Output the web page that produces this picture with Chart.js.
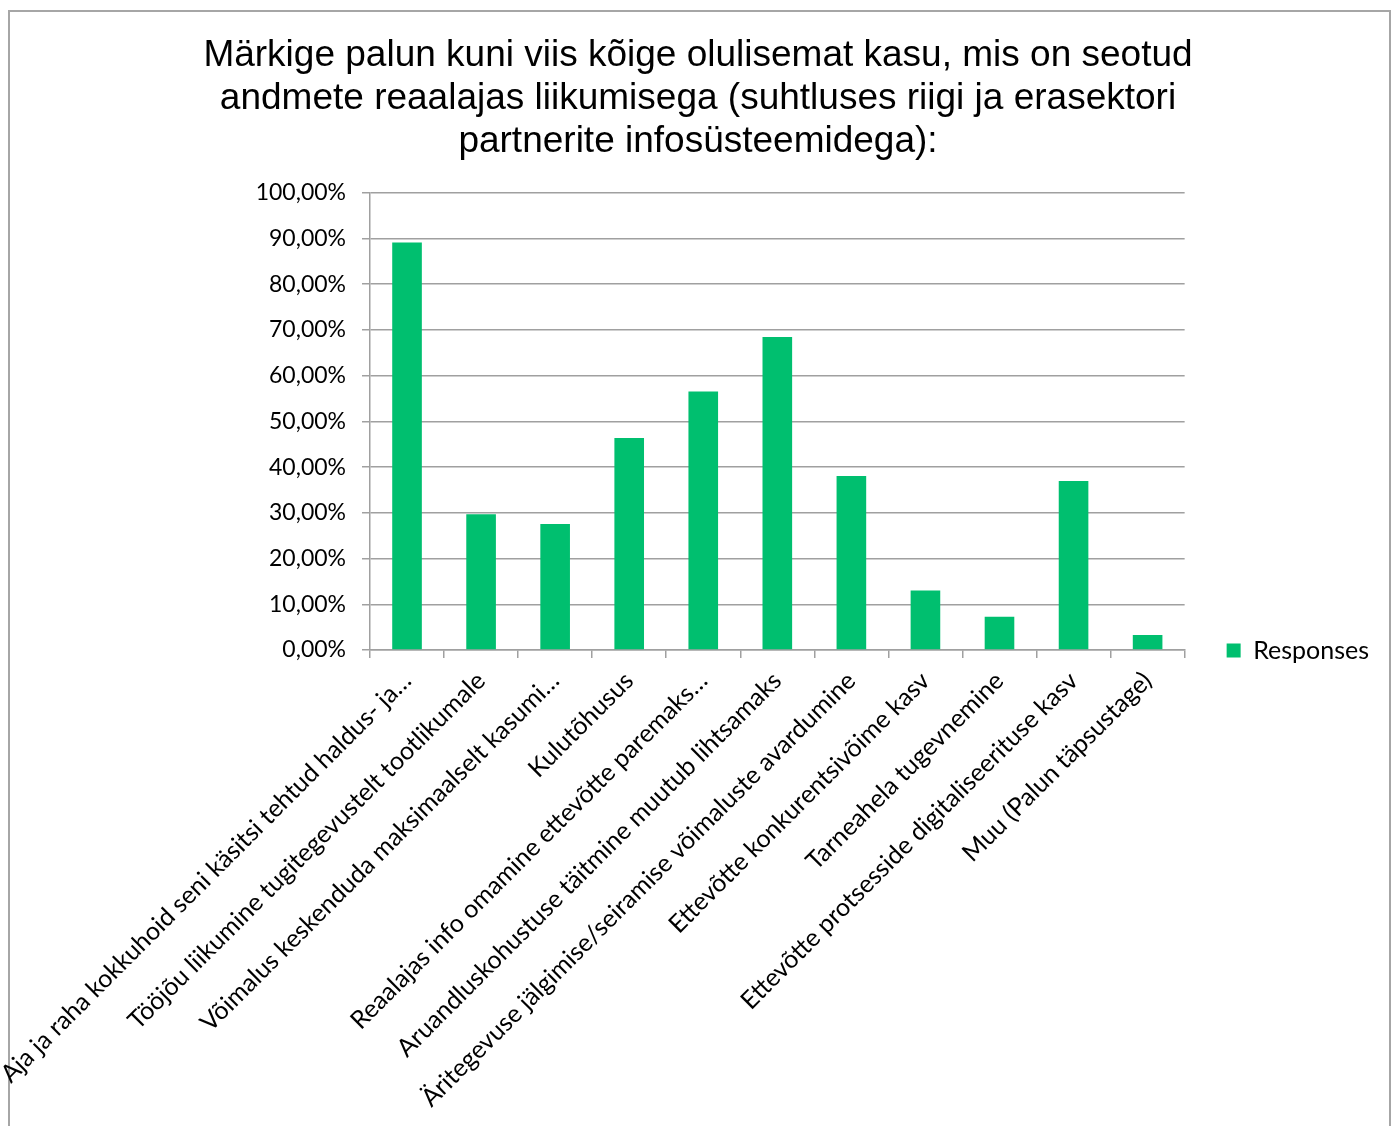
<!DOCTYPE html>
<html>
<head>
<meta charset="utf-8">
<script src="https://cdn.jsdelivr.net/npm/chart.js"></script>
<style>
  body { margin: 0; background: #fff; }
  #frame {
    position: absolute;
    left: 8px;
    top: 10px;
    width: 1379px;
    height: 1200px;
    border: 2px solid #a6a6a6;
  }
  #wrap { position: absolute; left: 0; top: 0; width: 1395px; height: 1126px; }
</style>
</head>
<body>
<div id="frame"></div>
<div id="wrap"><canvas id="benefitsChart"></canvas></div>
<script>
const titleLines = [
  "Märkige palun kuni viis kõige olulisemat kasu, mis on seotud",
  "andmete reaalajas liikumisega (suhtluses riigi ja erasektori",
  "partnerite infosüsteemidega):",
];

const categories = [
  "Aja ja raha kokkuhoid seni käsitsi tehtud haldus- ja…",
  "Tööjõu liikumine tugitegevustelt tootlikumale",
  "Võimalus keskenduda maksimaalselt kasumi…",
  "Kulutõhusus",
  "Reaalajas info omamine ettevõtte paremaks…",
  "Aruandluskohustuse täitmine muutub lihtsamaks",
  "Äritegevuse jälgimise/seiramise võimaluste avardumine",
  "Ettevõtte konkurentsivõime kasv",
  "Tarneahela tugevnemine",
  "Ettevõtte protsesside digitaliseerituse kasv",
  "Muu (Palun täpsustage)",
];

const responses = [89.13, 29.71, 27.54, 46.38, 56.52, 68.48, 38.04, 13.04, 7.25, 36.96, 3.26];

const yTicks = [0, 10, 20, 30, 40, 50, 60, 70, 80, 90, 100];

const green = "#00bf6f";
const gridGray = "#a0a0a0";

// nudge the legend to sit level with the x axis, like the original
const legendNudge = {
  id: "legendNudge",
  afterLayout: (chart) => {
    const lg = chart.legend;
    const dx = chart.chartArea.right + 32 - lg.left;
    const dy = 23;
    lg.left += dx;
    lg.right += dx;
    lg.top += dy;
    lg.bottom += dy;
  },
};

let ctx = document.getElementById("benefitsChart").getContext("2d");

let benefitsChart = new Chart(ctx, {
  type: "bar",
  data: {
    labels: categories,
    datasets: [
      {
        label: "Responses",
        data: responses,
        backgroundColor: green,
        borderColor: green,
        borderWidth: 0,
        categoryPercentage: 1,
        barPercentage: 0.4,
      },
    ],
  },
  options: {
    responsive: true,
    maintainAspectRatio: false,
    animation: false,
    layout: {
      padding: { left: 49, right: 48, top: 0, bottom: 0 },
    },
    scales: {
      x: {
        grid: {
          display: true,
          drawOnChartArea: false,
          drawTicks: true,
          tickLength: 8,
          color: gridGray,
          lineWidth: 1.5,
        },
        border: { display: true, color: gridGray, width: 1.5 },
        ticks: {
          autoSkip: false,
          minRotation: 45,
          maxRotation: 45,
          color: "#000",
          font: { family: "Lato", size: 25 },
          padding: 8,
        },
        afterFit: (scale) => {
          scale.paddingLeft = 0;
          scale.paddingRight = 0;
          scale.height = 476;
        },
      },
      y: {
        min: 0,
        max: 100,
        afterBuildTicks: (scale) => {
          scale.ticks = yTicks.map((v) => ({ value: v }));
        },
        grid: {
          color: gridGray,
          lineWidth: 1.5,
          tickLength: 8,
        },
        border: { display: true, color: gridGray, width: 1.5 },
        ticks: {
          color: "#000",
          font: { family: "Lato", size: 23 },
          padding: 16,
          callback: (value) => value.toFixed(2).replace(".", ",") + "%",
        },
        afterFit: (scale) => {
          scale.width = 321;
        },
      },
    },
    plugins: {
      title: {
        display: true,
        text: titleLines,
        color: "#000",
        font: { family: "Liberation Sans", size: 37, weight: "normal", lineHeight: 1.16 },
        padding: { top: 34, bottom: 30 },
      },
      legend: {
        display: true,
        position: "right",
        align: "end",
        fullSize: false,
        labels: {
          color: "#000",
          font: { family: "Lato", size: 25 },
          boxWidth: 14,
          boxHeight: 14,
          padding: 10,
        },
      },
      tooltip: { enabled: false },
    },
  },
  plugins: [legendNudge],
});
</script>
</body>
</html>
